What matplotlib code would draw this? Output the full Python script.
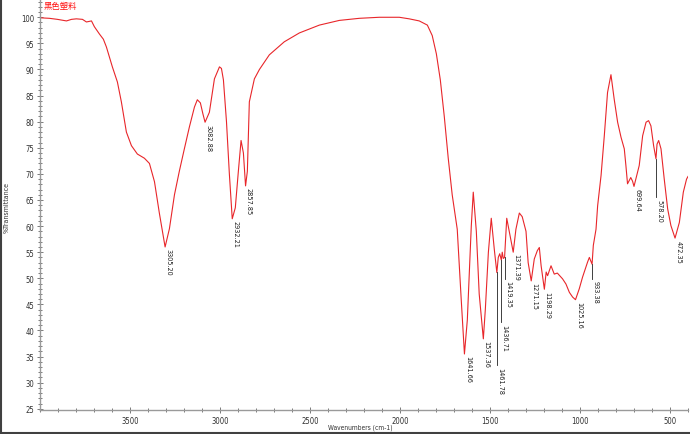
import matplotlib
matplotlib.use("Agg")
import numpy as np
import matplotlib.pyplot as plt
from matplotlib.ticker import MultipleLocator, FixedLocator
from matplotlib import font_manager
from matplotlib.lines import Line2D

# ---------------- data ----------------
wavenumber = [4000, 3948, 3903, 3853, 3825, 3798, 3764, 3742, 3714, 3698, 3670, 3648, 3631,
              3598, 3570, 3548, 3520, 3492, 3459, 3420, 3392, 3364, 3337, 3305, 3281, 3253,
              3226, 3198, 3170, 3142, 3126, 3109, 3095, 3083, 3059, 3031, 3003, 2992, 2981,
              2964, 2948, 2932, 2915, 2898, 2883, 2870, 2858, 2848, 2837, 2809, 2781, 2726,
              2643, 2559, 2448, 2337, 2226, 2115, 2004, 1949, 1893, 1848, 1821, 1798, 1776,
              1754, 1732, 1710, 1682, 1660, 1642, 1626, 1604, 1593, 1576, 1560, 1537, 1526,
              1509, 1493, 1476, 1462, 1454, 1446, 1437, 1432, 1426, 1419, 1407, 1393, 1371,
              1356, 1337, 1321, 1300, 1288, 1271, 1254, 1237, 1226, 1216, 1198, 1188, 1180,
              1161, 1143, 1126, 1097, 1078, 1059, 1041, 1025, 1004, 986, 958, 948, 933, 926,
              911, 902, 883, 865, 847, 828, 810, 791, 772, 754, 745, 736, 718, 708, 700, 671,
              652, 633, 619, 606, 591, 578, 572, 563, 550, 532, 513, 495, 472, 448, 426, 408, 400]
transmittance = [99.9, 99.8, 99.6, 99.3, 99.6, 99.7, 99.6, 99.1, 99.3, 98.2, 96.8, 95.8, 94.3,
                 90.5, 87.6, 83.8, 78.0, 75.4, 73.8, 73.0, 72.0, 68.5, 62.5, 56.0, 59.5, 66.0,
                 70.5, 74.8, 79.0, 82.8, 84.2, 83.6, 81.5, 79.9, 81.8, 88.2, 90.5, 90.2, 88.0,
                 80.0, 70.0, 61.4, 63.5, 70.5, 76.4, 74.0, 67.7, 70.5, 83.8, 88.2, 90.0, 92.8,
                 95.3, 97.0, 98.5, 99.4, 99.8, 100.0, 100.0, 99.7, 99.3, 98.5, 96.5, 93.0, 88.0,
                 81.0, 73.0, 66.0, 59.4, 46.0, 35.5, 42.0, 60.0, 66.5, 59.0, 47.0, 38.4, 44.0,
                 55.0, 61.5, 55.5, 51.1, 54.0, 54.7, 53.5, 55.0, 53.8, 54.0, 61.5, 59.0, 55.0,
                 59.4, 62.5, 61.8, 59.0, 53.0, 49.5, 53.7, 55.3, 55.9, 52.4, 47.9, 51.2, 50.5,
                 52.4, 50.8, 51.0, 49.9, 48.9, 47.3, 46.4, 45.9, 48.0, 50.2, 53.1, 54.0, 52.7, 56.3,
                 59.4, 63.9, 69.7, 77.3, 85.6, 89.0, 84.3, 79.9, 77.0, 74.8, 71.6, 68.1, 69.3, 68.6, 67.6, 71.6,
                 77.3, 79.9, 80.2, 79.2, 75.4, 72.9, 75.7, 76.4, 74.8, 69.0, 63.3, 60.1, 57.7, 60.7, 66.5, 69.0, 69.5]

peak_wavenumbers = [3305.20, 3082.88, 2932.21, 2857.85, 1641.66, 1537.36, 1461.78, 1436.71,
                    1419.35, 1371.39, 1271.15, 1198.29, 1025.16, 933.38, 699.64, 578.20, 472.35]
peak_labels = ["%.2f" % v for v in peak_wavenumbers]
# labels that hang below a leader line: wavenumber -> transmittance where the line ends
leader_end = {1461.78: 33.3, 1436.71: 41.6, 1419.35: 49.9, 933.38: 49.9, 578.20: 65.6}

sample_name = "黑色塑料"
x_label = "Wavenumbers (cm-1)"
y_label = "%Transmittance"
x_major = [3500, 3000, 2500, 2000, 1500, 1000, 500]

# ---------------- fonts ----------------
def pick(names):
    for n in names:
        try:
            font_manager.findfont(font_manager.FontProperties(family=n), fallback_to_default=False)
            return n
        except Exception:
            pass
    return "DejaVu Sans"

narrow = pick(["Liberation Sans Narrow", "DejaVu Sans"])
stretch = "normal" if narrow == "Liberation Sans Narrow" else "condensed"
cjk = pick(["Noto Sans CJK SC", "DejaVu Sans"])
small = dict(family=narrow, stretch=stretch)

# ---------------- figure ----------------
W, H = 690, 435
fig = plt.figure(figsize=(W / 100, H / 100), dpi=100)
fig.patch.set_facecolor("white")
ax = fig.add_axes([40 / W, 24 / H, 648 / W, 411 / H])
ax.set_facecolor("white")

wn = np.array(wavenumber, float)
tr = np.array(transmittance, float)
ax.plot(wn, tr, color="#e8262a", lw=0.8, solid_joinstyle="round")

ax.set_xlim(4000, 400)
ax.set_ylim(24.77, 103.5)

for s in ("top", "right"):
    ax.spines[s].set_visible(False)
for s in ("left", "bottom"):
    ax.spines[s].set_color("#9a9a9a")
    ax.spines[s].set_linewidth(1.0)

ax.xaxis.set_major_locator(FixedLocator(x_major))
ax.xaxis.set_minor_locator(MultipleLocator(100))
ax.yaxis.set_major_locator(MultipleLocator(5))
ax.yaxis.set_minor_locator(MultipleLocator(1))
ax.tick_params(which="both", direction="inout", color="#7a7a7a", width=0.7,
               labelsize=5.5, labelcolor="#303030")
ax.tick_params(which="major", length=4, pad=2)
ax.tick_params(which="minor", length=2.5)
for lab in ax.get_xticklabels() + ax.get_yticklabels():
    lab.set_family(narrow)
    lab.set_stretch(stretch)

# peak annotations
order = np.argsort(wn)
for w, txt in zip(peak_wavenumbers, peak_labels):
    t = float(np.interp(w, wn[order], tr[order]))
    if w in leader_end:
        end = leader_end[w]
        ax.plot([w, w], [t, end], color="#202020", lw=0.6)
        t = end
    ax.annotate(txt, xy=(w, t), xytext=(2.4, -1.2), textcoords="offset points",
                rotation=-90, ha="center", va="top", fontsize=5.2, color="#202020", **small)

fig.text(44 / W, 1 - 6 / H, sample_name, color="#ff1010", fontsize=6, family=cjk,
         ha="left", va="center")
fig.text(7 / W, 1 - 208 / H, y_label, rotation=90, fontsize=5, color="#303030",
         ha="center", va="center", **small)
fig.text(360 / W, 1 - 428 / H, x_label, fontsize=4.8, color="#303030",
         ha="center", va="center", **small)

# window border (left and bottom)
fig.add_artist(Line2D([1 / W, 1 / W], [0, 1], transform=fig.transFigure, color="#404040", lw=1.5))
fig.add_artist(Line2D([0, 1], [1 / H, 1 / H], transform=fig.transFigure, color="#404040", lw=1.5))

fig.savefig("out.png", dpi=100)
